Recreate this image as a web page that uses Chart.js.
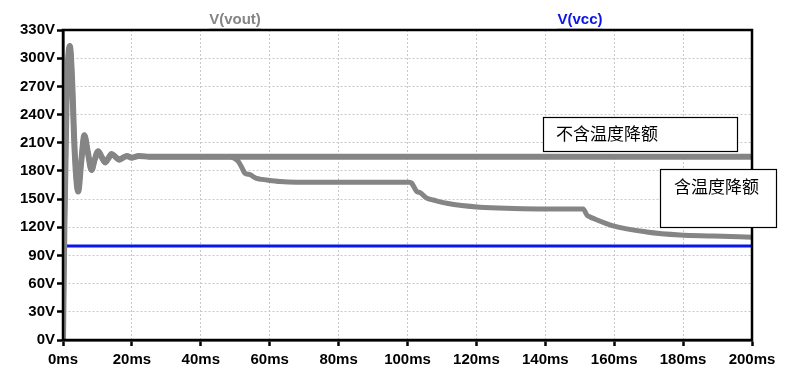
<!DOCTYPE html>
<html lang="zh-CN">
<head>
<meta charset="utf-8">
<title>V(vout) 温度降额</title>
<script src="https://cdn.jsdelivr.net/npm/chart.js@4.4.1/dist/chart.umd.min.js"></script>
<style>
  html, body { margin: 0; padding: 0; background: #fff; }
  #wrap { width: 793px; height: 392px; }
</style>
</head>
<body>
<div id="wrap"><canvas id="chart-area" width="793" height="392"></canvas></div>

<script>
// 启动振荡 (两条曲线共用)
var startTimes = [0, 0.4, 1, 1.5, 2, 2.6, 3.4, 4.4, 5.3, 6.2, 7.2, 8.3, 9.2, 10.2, 11.2, 12.2, 13.1, 14.1, 15.2, 16.3, 17.4, 18.5, 20, 22, 25];
var startVolts = [0, 120, 250, 300, 313, 280, 200, 158, 190, 218, 200, 181, 192, 201, 195, 189, 193, 198, 195, 192, 194, 196, 194, 196, 195];

// 不含温度降额
var flatTimes = [30, 100, 150, 200];
var flatVolts = [195, 195, 195, 195];

// 含温度降额
var derateTimes = [48.5, 49.9, 50.9, 52, 52.8, 54.3, 55.2, 56.2, 57.8, 59.6, 63, 67.8, 100.5, 101.2, 102.7, 103.6, 105.6, 107.5, 111.4, 121, 130.7, 140.4, 151, 152.1, 153, 153.9, 159.7, 169.4, 179.1, 188.8, 200];
var derateVolts = [195, 193, 190, 183, 177.5, 176, 174, 172, 171, 170, 168.6, 168, 168, 167, 158, 157, 151, 149, 145.5, 141.3, 140, 139.5, 139.5, 133, 131, 129.5, 121.5, 115, 111.8, 110.8, 109.4];

// V(vcc)
var vccTimes = [0, 200];
var vccVolts = [100, 100];

var xTicks = [0, 20, 40, 60, 80, 100, 120, 140, 160, 180, 200];
var yTicks = [0, 30, 60, 90, 120, 150, 180, 210, 240, 270, 300, 330];

var labelNoDerate = '不含温度降额';
var labelDerate = '含温度降额';

function pts(ts, vs) {
  var out = [];
  for (var i = 0; i < ts.length; i++) out.push({ x: ts[i], y: vs[i] });
  return out;
}

var traceGray = '#858585';
var traceBlue = '#0a14f0';

// 外框、标题、注释框
var plotExtras = {
  id: 'plotExtras',
  afterDraw: function(chart) {
    var ctx = chart.ctx;
    var a = chart.chartArea;
    ctx.save();
    ctx.strokeStyle = '#000';
    ctx.lineWidth = 2.5;
    ctx.strokeRect(a.left, a.top, a.right - a.left, a.bottom - a.top);

    ctx.font = 'bold 15px "Liberation Sans", Arial, sans-serif';
    ctx.textAlign = 'center';
    ctx.textBaseline = 'alphabetic';
    var titles = [['V(vout)', 235, traceGray], ['V(vcc)', 580, traceBlue]];
    titles.forEach(function(t) {
      ctx.fillStyle = t[2];
      ctx.fillText(t[0], t[1], 24);
      var w = ctx.measureText(t[0]).width;
      ctx.strokeStyle = '#a0a0a0';
      ctx.lineWidth = 1;
      ctx.beginPath();
      ctx.moveTo(t[1] - w / 2, 28.5);
      ctx.lineTo(t[1] + w / 2, 28.5);
      ctx.stroke();
    });

    ctx.font = '17px "Noto Sans CJK SC", sans-serif';
    ctx.textAlign = 'left';
    ctx.textBaseline = 'middle';
    var boxes = [[543, 117, 194, 34, labelNoDerate, 556, 134], [660, 169, 116, 58, labelDerate, 674, 187]];
    boxes.forEach(function(b) {
      ctx.fillStyle = '#fff';
      ctx.fillRect(b[0], b[1], b[2], b[3]);
      ctx.strokeStyle = '#000';
      ctx.lineWidth = 1.2;
      ctx.strokeRect(b[0] + 0.5, b[1] + 0.5, b[2], b[3]);
      ctx.fillStyle = '#000';
      ctx.fillText(b[4], b[5], b[6]);
    });
    ctx.restore();
  }
};

var tickFont = { family: '"Liberation Sans", Arial, sans-serif', size: 15, weight: 'bold' };

var config = {
  type: 'line',
  data: {
    datasets: [
      {
        label: 'V(vcc)',
        data: pts(vccTimes, vccVolts),
        borderColor: traceBlue,
        borderWidth: 3,
        pointRadius: 0,
        order: 3
      },
      {
        label: labelDerate,
        data: pts(startTimes, startVolts).concat(pts(derateTimes, derateVolts)),
        borderColor: traceGray,
        borderWidth: 5,
        pointRadius: 0,
        cubicInterpolationMode: 'monotone',
        order: 2
      },
      {
        label: labelNoDerate,
        data: pts(startTimes, startVolts).concat(pts(flatTimes, flatVolts)),
        borderColor: traceGray,
        borderWidth: 6,
        pointRadius: 0,
        cubicInterpolationMode: 'monotone',
        order: 1
      }
    ]
  },
  options: {
    responsive: false,
    animation: false,
    layout: { padding: { top: 30, right: 41, left: 0, bottom: 0 } },
    plugins: {
      legend: { display: false },
      tooltip: { enabled: false }
    },
    scales: {
      x: {
        type: 'linear',
        min: 0,
        max: 200,
        afterBuildTicks: function(s) { s.ticks = xTicks.map(function(v) { return { value: v }; }); },
        afterFit: function(s) { s.height = 52; },
        ticks: {
          color: '#000',
          font: tickFont,
          padding: 5,
          maxRotation: 0,
          callback: function(v) { return v + 'ms'; }
        },
        grid: { color: '#c8c8c8', lineWidth: 1, tickLength: 6, tickColor: '#000', tickWidth: 2.5 },
        border: { color: '#000', width: 2.5, dash: [2, 2] }
      },
      y: {
        type: 'linear',
        min: 0,
        max: 330,
        afterBuildTicks: function(s) { s.ticks = yTicks.map(function(v) { return { value: v }; }); },
        afterFit: function(s) { s.width = 63; },
        ticks: {
          color: '#000',
          font: tickFont,
          padding: 2,
          callback: function(v) { return v + 'V'; }
        },
        grid: { color: '#c8c8c8', lineWidth: 1, tickLength: 6, tickColor: '#000', tickWidth: 2.5 },
        border: { color: '#000', width: 2.5, dash: [2, 2] }
      }
    }
  },
  plugins: [plotExtras]
};

window.onload = function() {
  var ctx = document.getElementById('chart-area').getContext('2d');
  window.myLine = new Chart(ctx, config);
};
</script>
</body>
</html>
